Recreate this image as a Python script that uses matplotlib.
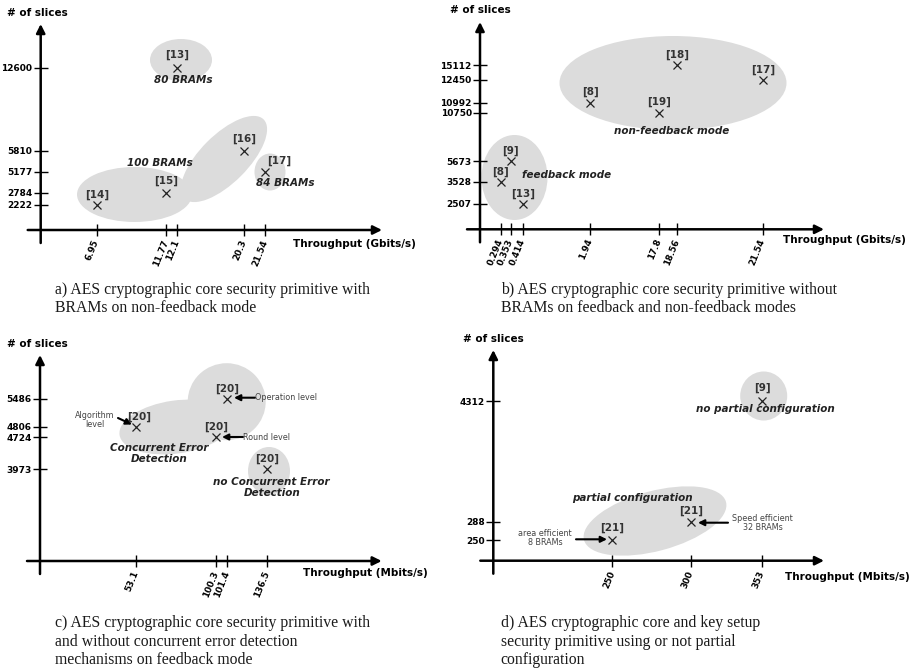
import numpy as np
import matplotlib
matplotlib.use('Agg')
import matplotlib.pyplot as plt
from matplotlib.patches import Ellipse
from matplotlib.transforms import Affine2D

plt.rcParams['font.family'] = ['DejaVu Sans']

# a) AES core with BRAMs, non-feedback mode
a_xticks = [6.95, 11.77, 12.1, 20.3, 21.54]
a_yticks = [2222, 2784, 5177, 5810, 12600]
a_refs = ['[13]', '[14]', '[15]', '[16]', '[17]']
a_tput = [12.1, 6.95, 11.77, 20.3, 21.54]
a_slices = [12600, 2222, 2784, 5810, 5177]

# b) AES core without BRAMs, feedback and non-feedback
b_xticks = [0.294, 0.353, 0.414, 1.94, 17.8, 18.56, 21.54]
b_yticks = [2507, 3528, 5673, 10750, 10992, 12450, 15112]
b_refs = ['[18]', '[17]', '[8]', '[19]', '[9]', '[8]', '[13]']
b_tput = [18.56, 21.54, 1.94, 17.8, 0.353, 0.294, 0.414]
b_slices = [15112, 12450, 10992, 10750, 5673, 3528, 2507]

# c) with / without concurrent error detection
c_xticks = [53.1, 100.3, 101.4, 136.5]
c_yticks = [3973, 4724, 4806, 5486]
c_refs = ['[20]', '[20]', '[20]', '[20]']
c_tput = [53.1, 101.4, 100.3, 136.5]
c_slices = [4806, 5486, 4724, 3973]

# d) partial configuration or not
d_xticks = [250, 300, 353]
d_yticks = [250, 288, 4312]
d_refs = ['[9]', '[21]', '[21]']
d_tput = [353, 300, 250]
d_slices = [4312, 288, 250]

W, H = 920, 672
fig = plt.figure(figsize=(W / 100, H / 100), dpi=100)
# reference pixel coords (origin top-left) -> display
T = Affine2D().scale(1 / 100, -1 / 100).translate(0, H / 100) + fig.dpi_scale_trans

GREY = '#dcdcdc'


def make_scale(vals, fracs, lo, hi):
    v = np.array([lo] + list(vals) + [hi], dtype=float)
    f = np.array([0.0] + list(fracs) + [1.0])
    fwd = lambda x: np.interp(x, v, f)
    inv = lambda p: np.interp(p, f, v)
    return fwd, inv


def panel(origin, tip, xpx, ypx, xt, yt, xs, ys, refs, offs, ylab_at, xlab_at, xunit):
    x0, y0 = origin
    x1, y1 = tip
    ax = fig.add_axes([x0 / W, 1 - y0 / H, (x1 - x0) / W, (y0 - y1) / H])
    ax.patch.set_visible(False)
    for s in ax.spines.values():
        s.set_visible(False)

    xfr = [(p - x0) / (x1 - x0) for p in xpx]
    yfr = [(y0 - p) / (y0 - y1) for p in ypx]
    xhi = xt[-1] * 1.5
    yhi = yt[-1] * 1.5
    ax.set_xscale('function', functions=make_scale(xt, xfr, 0, xhi))
    ax.set_yscale('function', functions=make_scale(yt, yfr, 0, yhi))
    ax.set_xlim(0, xhi)
    ax.set_ylim(0, yhi)

    ax.set_xticks(xt)
    ax.set_xticklabels([str(v) for v in xt])
    ax.set_yticks(yt)
    ax.set_yticklabels([str(v) for v in yt])
    ax.minorticks_off()
    ax.tick_params(axis='y', direction='inout', length=10, width=1,
                   pad=1, labelsize=6.5, colors='black')
    ax.tick_params(axis='x', direction='inout', length=8.5, width=1,
                   pad=3, labelsize=6.3, colors='black')
    for lb in ax.get_yticklabels():
        lb.set_fontweight('bold')
    for lb in ax.get_xticklabels():
        lb.set_fontweight('bold')
        lb.set_rotation(68)
        lb.set_ha('right')
        lb.set_va('center')
        lb.set_rotation_mode('anchor')

    # axis arrows
    arr = dict(arrowstyle='-|>', lw=1.8, color='black', shrinkA=0, shrinkB=0,
               mutation_scale=13)
    ax.annotate('', xy=(x1, y0), xytext=(x0 - 13, y0), xycoords=T, textcoords=T,
                arrowprops=arr)
    ax.annotate('', xy=(x0, y1), xytext=(x0, y0 + 13), xycoords=T, textcoords=T,
                arrowprops=arr)

    ax.plot(xs, ys, 'x', color='#222222', ms=5.5, mew=0.9, clip_on=False, zorder=4)
    for x, y, r, (dx, dy) in zip(xs, ys, refs, offs):
        ax.annotate(r, (x, y), xytext=(dx, dy), textcoords='offset points',
                    ha='center', va='center', fontsize=7.5, fontweight='bold',
                    color='#333333', zorder=5)

    ax.text(ylab_at[0], ylab_at[1], '# of slices', transform=T, ha='left',
            va='center', fontsize=7.5, fontweight='bold')
    ax.text(xlab_at[0], xlab_at[1], 'Throughput (%sbits/s)' % xunit, transform=T,
            ha='left', va='center', fontsize=7.5, fontweight='bold')
    return ax


def blob(ax, cx, cy, w, h, ang=0):
    ax.add_patch(Ellipse((cx, cy), w, h, angle=-ang, transform=T, facecolor=GREY,
                         edgecolor='none', zorder=0, clip_on=False))


def tag(ax, x, y, s, size=7.5):
    ax.text(x, y, s, transform=T, ha='center', va='center', fontsize=size,
            fontweight='bold', fontstyle='italic', color='#222222',
            linespacing=1.1, zorder=5)


def note(ax, x, y, s, ha='center'):
    ax.text(x, y, s, transform=T, ha=ha, va='center', fontsize=5.8,
            color='#444444', linespacing=1.05, zorder=5)


def pointer(ax, start, end):
    ax.annotate('', xy=end, xytext=start, xycoords=T, textcoords=T,
                arrowprops=dict(arrowstyle='-|>', lw=1.5, color='black',
                                shrinkA=0, shrinkB=0, mutation_scale=9))


def caption(x, y, lines):
    for i, s in enumerate(lines):
        fig.text(x, y + i * 18.3, s, transform=T, ha='left', va='center',
                 fontsize=11.3, family='Liberation Serif', color='#1a1a1a')


up = 7.5
# panel a
ax = panel((40.7, 230), (382, 24),
           [96.7, 165.7, 176.7, 244.3, 265.3], [205, 192.7, 171.7, 151, 67.7],
           a_xticks, a_yticks, a_tput, a_slices, a_refs,
           [(0, 9), (0, 7.5), (0, 8.5), (0, 8.5), (10, 8)],
           (7, 13), (293, 244), 'G')
blob(ax, 181, 60, 62, 42)
blob(ax, 134.5, 194.5, 115, 55)
blob(ax, 224, 159, 112, 48, 45)
blob(ax, 270, 172, 31, 37)
tag(ax, 183, 80, '80 BRAMs')
tag(ax, 160, 163, '100 BRAMs')
tag(ax, 285, 183, '84 BRAMs')
caption(55, 290, ['a) AES cryptographic core security primitive with',
                  'BRAMs on non-feedback mode'])

# panel b
ax = panel((480, 229.3), (824, 22),
           [500.7, 510.7, 522.7, 590.3, 658.7, 676.7, 762.7],
           [204, 182, 161.3, 112.7, 102.7, 80, 65.3],
           b_xticks, b_yticks, b_tput, b_slices, b_refs,
           [(0, up)] * 7, (450, 10), (783, 240), 'G')
blob(ax, 673, 83, 227, 94)
blob(ax, 514.5, 177.5, 66, 85)
tag(ax, 671.7, 131, 'non-feedback mode')
tag(ax, 566.7, 175, 'feedback mode')
caption(500.7, 290, ['b) AES cryptographic core security primitive without',
                     'BRAMs on feedback and non-feedback modes'])

# panel c
ax = panel((40, 561), (381.7, 355),
           [136, 216, 227.3, 266.7], [469.3, 437.3, 426.7, 399],
           c_xticks, c_yticks, c_tput, c_slices, c_refs,
           [(2, 7), (0, up), (0, up), (0, up)], (7, 344), (302.7, 573.3), 'M')
blob(ax, 176, 427, 114, 53, 8)
blob(ax, 226.7, 401.7, 78, 77)
blob(ax, 269, 471, 42, 48)
tag(ax, 159, 453.3, 'Concurrent Error\nDetection')
tag(ax, 271.7, 487.5, 'no Concurrent Error\nDetection')
note(ax, 95, 420, 'Algorithm\nlevel')
note(ax, 255, 397, 'Operation level', ha='left')
note(ax, 243.3, 437, 'Round level', ha='left')
pointer(ax, (118, 418), (132, 424.5))
pointer(ax, (255, 397.7), (234, 397.7))
pointer(ax, (243, 437), (222, 437))
caption(55, 623.3, ['c) AES cryptographic core security primitive with',
                    'and without concurrent error detection',
                    'mechanisms on feedback mode'])

# panel d
ax = panel((493.3, 560.7), (824, 350),
           [612.3, 690.7, 762], [540, 521.7, 401.3],
           d_xticks, d_yticks, d_tput, d_slices, d_refs,
           [(0, 10), (0, up), (0, 9)], (462.7, 339), (785, 576.7), 'M')
blob(ax, 763.7, 396, 47, 49)
blob(ax, 655, 521, 147, 60, 15)
tag(ax, 765, 409, 'no partial configuration')
tag(ax, 632.7, 497.7, 'partial configuration')
note(ax, 545, 538.3, 'area efficient\n8 BRAMs')
note(ax, 762.7, 523.3, 'Speed efficient\n32 BRAMs')
pointer(ax, (576, 539.3), (607, 539.3))
pointer(ax, (728, 522.7), (698, 522.7))
caption(500.7, 623.3, ['d) AES cryptographic core and key setup',
                       'security primitive using or not partial',
                       'configuration'])

fig.savefig('out.png', dpi=100)
